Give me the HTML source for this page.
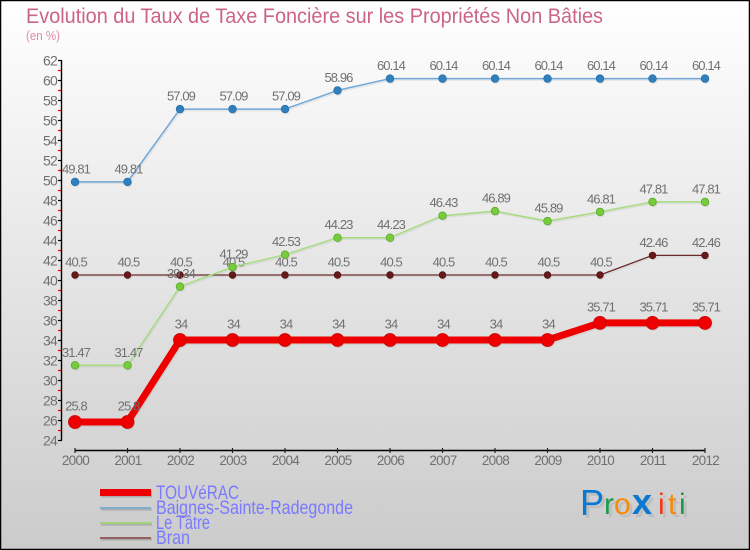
<!DOCTYPE html>
<html>
<head>
<meta charset="utf-8">
<title>Evolution du Taux de Taxe Foncière</title>
<style>
html,body{margin:0;padding:0;background:#fff;}
svg{display:block;}
text{font-family:"Liberation Sans",sans-serif;}
</style>
</head>
<body>
<svg id="chart" width="750" height="550" viewBox="0 0 750 550" xmlns="http://www.w3.org/2000/svg">
<defs>
<linearGradient id="bg" x1="0" y1="0" x2="0" y2="1">
<stop offset="0" stop-color="#ffffff"/>
<stop offset="1" stop-color="#cbcbcb"/>
</linearGradient>
</defs>
<rect x="0.5" y="0.5" width="749" height="549" fill="url(#bg)" stroke="#000" stroke-width="1.5"/>
<text x="26" y="23" font-size="21.5" fill="#cc6488" textLength="577" lengthAdjust="spacingAndGlyphs">Evolution du Taux de Taxe Foncière sur les Propriétés Non Bâties</text>
<text x="26" y="40" font-size="13" fill="#dd8ca6" textLength="34" lengthAdjust="spacingAndGlyphs">(en %)</text>
<g id="axes"></g>
<g id="series"></g>
<g id="legend"></g>
<g id="logo">
<g fill="#aaa" opacity="0.45" transform="translate(3,3)">
<text x="580" y="515" font-size="36">P</text><text x="604" y="514" font-size="30">r</text><text x="614" y="514" font-size="30">o</text><text x="632" y="514" font-size="36" font-weight="bold">x</text><text x="658" y="514" font-size="30">i</text><text x="668" y="514" font-size="30">t</text><text x="679" y="514" font-size="30">i</text>
</g>
<g>
<text x="580" y="515" font-size="36" fill="#0a78d2">P</text><text x="604" y="514" font-size="30" fill="#1a9a4a">r</text><text x="614" y="514" font-size="30" fill="#f58a0b">o</text><text x="632" y="514" font-size="36" fill="#0a78d2" font-weight="bold">x</text><text x="658" y="514" font-size="30" fill="#ee3a1a">i</text><text x="668" y="514" font-size="30" fill="#f58a0b">t</text><text x="679" y="514" font-size="30" fill="#1a9a4a">i</text>
</g>
</g>
</svg>
<script>
const years = [2000,2001,2002,2003,2004,2005,2006,2007,2008,2009,2010,2011,2012];
const yTicks = [24,26,28,30,32,34,36,38,40,42,44,46,48,50,52,54,56,58,60,62];
const yMinorTicks = [25,27,29,31,33,35,37,39,41,43,45,47,49,51,53,55,57,59,61];
const touverac = [25.8,25.8,34,34,34,34,34,34,34,34,35.71,35.71,35.71];
const baignes = [49.81,49.81,57.09,57.09,57.09,58.96,60.14,60.14,60.14,60.14,60.14,60.14,60.14];
const leTatre = [31.47,31.47,39.34,41.29,42.53,44.23,44.23,46.43,46.89,45.89,46.81,47.81,47.81];
const bran = [40.5,40.5,40.5,40.5,40.5,40.5,40.5,40.5,40.5,40.5,40.5,42.46,42.46];
const seriesNames = ["TOUVéRAC","Baignes-Sainte-Radegonde","Le Tâtre","Bran"];

const NS = "http://www.w3.org/2000/svg";
const xOf = function(year){ return 75 + (year - 2000) * 52.5; };
const yOf = function(v){ return 60.5 + (62 - v) * 10; };
function mk(parent, tag, attrs, txt){
  const el = document.createElementNS(NS, tag);
  for (const k in attrs) el.setAttribute(k, attrs[k]);
  if (txt !== undefined) el.textContent = txt;
  parent.appendChild(el);
  return el;
}

const axes = document.getElementById("axes");
const yAxis = mk(axes, "line", {x1:61.5,x2:61.5,y1:yOf(62),y2:yOf(24),stroke:"#000","stroke-width":1.4});


const xAxis = mk(axes, "line", {x1:xOf(2000),x2:xOf(2012),y1:450.5,y2:450.5,stroke:"#000","stroke-width":1.4});


yTicks.forEach(function(v){
  mk(axes, "line", {x1:58,x2:62,y1:yOf(v),y2:yOf(v),stroke:"#000","stroke-width":1.2});
  const t = mk(axes, "text", {x:57,y:yOf(v)+5,"text-anchor":"end","font-size":14,fill:"#707070","letter-spacing":"-0.8"}, String(v));
  
  
});
yMinorTicks.forEach(function(v){
  mk(axes, "line", {x1:58,x2:61,y1:yOf(v),y2:yOf(v),stroke:"#e00000","stroke-width":1.2});
});
years.forEach(function(y){
  mk(axes, "line", {x1:xOf(y),x2:xOf(y),y1:448,y2:453,stroke:"#222","stroke-width":1.2});
  const t = mk(axes, "text", {x:xOf(y)+0.5,y:465,"text-anchor":"middle","font-size":13.5,fill:"#707070","letter-spacing":"-0.7"}, String(y));
  
  
});

const seriesGroup = document.getElementById("series");
function drawSeries(values, key, lineColor, dotColor, dotStroke, width, r){
  const g = mk(seriesGroup, "g", {});
  
  
  const pts = values.map(function(v,i){ return xOf(years[i]) + "," + (yOf(v)-0.5); }).join(" ");
  mk(g, "polyline", {points:pts,fill:"none",stroke:"#999","stroke-opacity":0.18,"stroke-width":width,transform:"translate(1,1.5)"});
  const line = mk(g, "polyline", {points:pts,fill:"none",stroke:lineColor,"stroke-width":width,"stroke-linejoin":"round"});
  
  
  values.forEach(function(v,i){
    mk(g, "circle", {cx:xOf(years[i])+1,cy:yOf(v)+1,r:r,fill:"#888","fill-opacity":0.2});
    const c = mk(g, "circle", {cx:xOf(years[i]),cy:yOf(v)-0.5,r:r,fill:dotColor,stroke:dotStroke,"stroke-width":0.8});
    
    
  });
  values.forEach(function(v,i){
    const t = mk(g, "text", {x:xOf(years[i])+1,y:yOf(v)-(r>5?12:9),"text-anchor":"middle","font-size":13,fill:"#707070","letter-spacing":"-0.9"}, String(v));
    
    
  });
}
drawSeries(bran, "series-bran", "#6a2a2a", "#661a1a", "#551111", 1.3, 3.3);
drawSeries(leTatre, "series-le-tatre", "#a5dc7e", "#76cc3c", "#5aa82a", 1.5, 3.8);
drawSeries(baignes, "series-baignes", "#6fa8d8", "#2f80bd", "#2a70a8", 1.5, 3.8);
drawSeries(touverac, "series-touverac", "#ee0000", "#ee0000", "#cc0000", 7, 6.5);

const legend = document.getElementById("legend");
const legendColors = ["#ee0000","#82aecb","#a2d47e","#946060"];
const legendWidths = [7,2,2,2];
seriesNames.forEach(function(name,i){
  const cy = i === 0 ? 492.5 : 508 + (i-1)*15;
  const g = mk(legend, "g", {});
  
  
  mk(g, "line", {x1:101,x2:152,y1:cy+1.5,y2:cy+1.5,stroke:"#777","stroke-opacity":0.4,"stroke-width":legendWidths[i]});
  mk(g, "line", {x1:100,x2:151,y1:cy,y2:cy,stroke:legendColors[i],"stroke-width":legendWidths[i]});
  const baseline = 499 + i*15;
  const widths = [83,197,54,34];
  mk(g, "text", {x:156,y:baseline,"font-size":19.5,fill:"#7a7aff",textLength:widths[i],lengthAdjust:"spacingAndGlyphs"}, name);
});
</script>
</body>
</html>
